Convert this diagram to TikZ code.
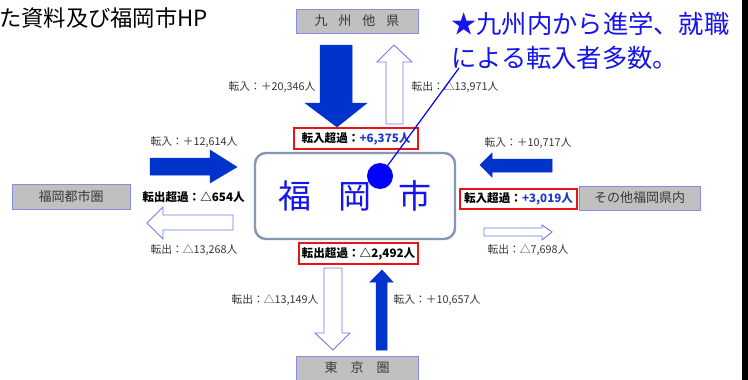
\documentclass[tikz,border=0pt]{standalone}
\usepackage{fontspec}
\setmainfont{Noto Sans CJK JP}
\definecolor{arrblue}{RGB}{0,51,204}
\definecolor{outblue}{RGB}{110,125,225}
\definecolor{boxgray}{RGB}{192,192,192}
\definecolor{boxedge}{RGB}{135,140,230}
\definecolor{cityedge}{RGB}{135,150,180}
\definecolor{labgray}{RGB}{55,55,55}
\definecolor{callblue}{RGB}{20,20,235}
\definecolor{redline}{RGB}{235,20,20}
\definecolor{numblue}{RGB}{30,60,200}
\tikzset{
  region/.style={draw=boxedge,fill=boxgray,line width=0.9pt,minimum height=24pt,inner sep=0pt,text=labgray,font=\fontsize{13}{15}\selectfont},
  lab/.style={text=labgray,inner sep=0pt,font=\fontsize{10.8}{12}\selectfont},
  netbox/.style={draw=redline,line width=1.4pt,minimum height=21pt,inner sep=0pt,font=\bfseries\fontsize{11.6}{13}\selectfont},
  fillarrow/.style={fill=arrblue,draw=arrblue,line width=0.5pt},
  openarrow/.style={fill=white,draw=outblue,line width=0.9pt},
}
\begin{document}
\begin{tikzpicture}[x=1pt,y=-1pt]
\useasboundingbox (0,0) rectangle (748,380);
\fill[white] (0,0) rectangle (748,380);
\fill[black] (742,0) rectangle (748,380);
% title
\node[anchor=west,inner sep=0pt,font=\fontsize{22.3}{24}\selectfont] (title) at (-1,18) {た資料及び福岡市HP};
% callout
\node[anchor=west,inner sep=0pt,text=callblue,font=\fontsize{25.3}{28}\selectfont] (call1) at (451,24) {★九州内から進学、就職};
\node[anchor=west,inner sep=0pt,text=callblue,font=\fontsize{25.3}{28}\selectfont] (call2) at (451,58) {による転入者多数。};
% regions
\node[region,minimum width=122pt] (kyushu) at (357,21) {九\hspace{11pt}州\hspace{11pt}他\hspace{11pt}県};
\node[region,minimum width=118pt,minimum height=25pt] (toshiken) at (71,196.5) {福岡都市圏};
\node[region,minimum width=121pt] (sonota) at (639.5,198) {その他福岡県内};
\node[region,minimum width=122pt] (tokyo) at (357,368) {東\hspace{13pt}京\hspace{13pt}圏};
% city
\node[draw=cityedge,line width=2.4pt,rounded corners=11pt,minimum width=200pt,minimum height=86pt,inner sep=0pt,text=callblue,font=\fontsize{33}{36}\selectfont] (city) at (355,196) {福\hspace{27pt}岡\hspace{27pt}市};
% arrows top
\draw[fillarrow] (320,45) -- (352,45) -- (352,103) -- (367,103) -- (337,127) -- (305,103) -- (320,103) -- cycle;
\draw[openarrow] (394,45) -- (412,62) -- (403,62) -- (403,124) -- (386,124) -- (386,62) -- (377,62) -- cycle;
% arrows left
\draw[fillarrow] (150,158) -- (210,158) -- (210,150) -- (237,167) -- (210,183) -- (210,175) -- (150,175) -- cycle;
\draw[openarrow] (147,223) -- (163,207) -- (163,215) -- (233,215) -- (233,230) -- (163,230) -- (163,239) -- cycle;
% arrows right
\draw[fillarrow] (480,165) -- (492,153) -- (492,159) -- (552,159) -- (552,172) -- (492,172) -- (492,177) -- cycle;
\draw[openarrow] (484,228) -- (542,228) -- (542,225) -- (552,232) -- (542,240) -- (542,236) -- (484,236) -- cycle;
% arrows bottom
\draw[openarrow] (324,268) -- (342,268) -- (342,333) -- (350,333) -- (333,350) -- (315,333) -- (324,333) -- cycle;
\draw[fillarrow] (382,270) -- (393,282) -- (387,282) -- (387,350) -- (376,350) -- (376,282) -- (370,282) -- cycle;
% flow labels
\node[lab] (l1) at (272,87) {転入：＋20,346人};
\node[lab] (l2) at (455,87) {転出：△13,971人};
\node[lab] (l3) at (194,142) {転入：＋12,614人};
\node[lab] (l4) at (194,250) {転出：△13,268人};
\node[lab] (l5) at (528,143) {転入：＋10,717人};
\node[lab] (l6) at (528,250) {転出：△7,698人};
\node[lab] (l7) at (275,300) {転出：△13,149人};
\node[lab] (l8) at (437,300) {転入：＋10,657人};
% net boxes
\node[netbox,minimum width=124pt] (n1) at (356,138.5) {転入超過：\textcolor{numblue}{+6,375人}};
\node[netbox,minimum width=117pt,minimum height=20pt] (n2) at (518.5,199) {転入超過：\textcolor{numblue}{+3,019人}};
\node[netbox,minimum width=119pt] (n3) at (358.5,253.5) {転出超過：△2,492人};
\node[inner sep=0pt,font=\bfseries\fontsize{11.6}{13}\selectfont] (n4) at (193.5,197) {転出超過：△654人};
% pointer
\node[circle,fill=blue,minimum size=26pt,inner sep=0pt] (dot) at (380,176) {};
\coordinate (tip) at (459,68);
\draw[blue,line width=1.2pt] (dot.center) -- (tip);
\end{tikzpicture}
\end{document}
